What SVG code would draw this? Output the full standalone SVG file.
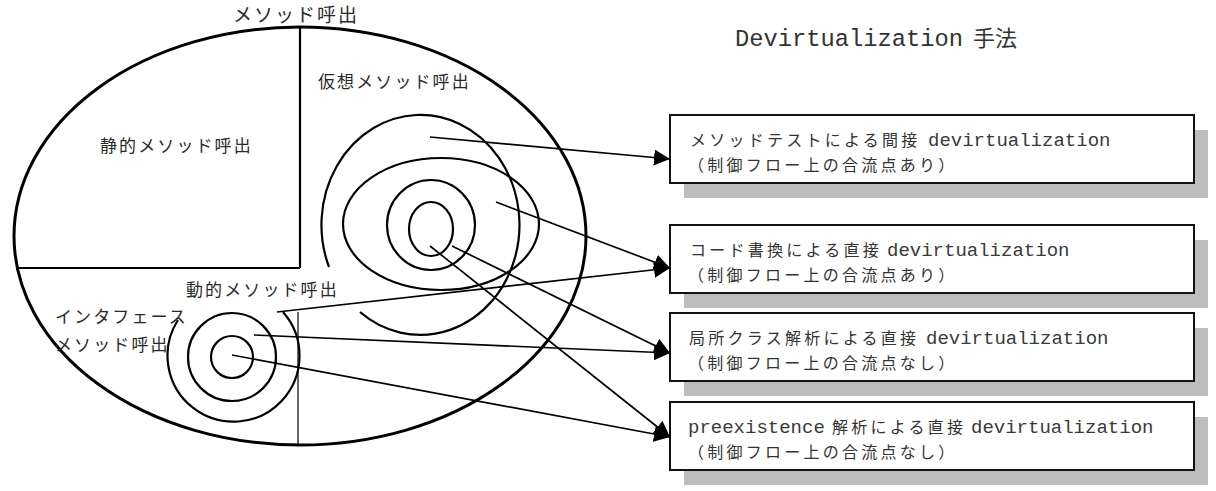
<svg xmlns="http://www.w3.org/2000/svg" width="1216" height="491" viewBox="0 0 1216 491">
<style>
.jp{font-family:"Noto Sans CJK JP","Noto Sans CJK SC",sans-serif;font-size:17px;letter-spacing:2.1px;fill:#2a2a2a}
.bt{font-family:"Noto Sans CJK JP","Noto Sans CJK SC",sans-serif;font-size:16px;fill:#333}
.bj{letter-spacing:3.25px}
.mono{font-family:"Liberation Mono",monospace;font-size:19px;letter-spacing:0;fill:#3a3a3a}
.box{fill:#fff;stroke:#111;stroke-width:2}
.sh{fill:#bdbdbd}
.thick{fill:none;stroke:#000;stroke-width:3}
.mid{fill:none;stroke:#000;stroke-width:2.2}
.thin{fill:none;stroke:#000;stroke-width:1.2}
.con{fill:none;stroke:#000;stroke-width:1.7;marker-end:url(#ah)}
</style>
<defs>
<marker id="ah" markerUnits="userSpaceOnUse" markerWidth="17" markerHeight="16" refX="16" refY="8" orient="auto">
<path d="M0,0 L16,8 L0,16 z" fill="#000"/>
</marker>
</defs>
<rect width="1216" height="491" fill="#fff"/>

<g id="method-call">
<ellipse class="thick" cx="300" cy="236" rx="286" ry="209"/>
<line class="mid" x1="300" y1="27" x2="300" y2="268"/>
<line class="mid" x1="17" y1="268" x2="300" y2="268"/>
<line class="thin" x1="298" y1="312" x2="298" y2="445"/>
<text class="jp" x="233" y="22" style="font-size:19px;letter-spacing:2px">メソッド呼出</text>
</g>

<g id="static-call">
<text class="jp" x="100" y="152">静的メソッド呼出</text>
</g>

<g id="virtual-call">
<text class="jp" x="318" y="88">仮想メソッド呼出</text>
<ellipse class="mid" cx="431" cy="229" rx="22" ry="27"/>
<ellipse class="mid" cx="431" cy="225" rx="44" ry="45"/>
<ellipse class="mid" cx="441" cy="224" rx="98" ry="66"/>
<path class="mid" d="M329,267 A99,110 0 1 1 360,312"/>
</g>

<g id="dynamic-call">
<text class="jp" x="186" y="296">動的メソッド呼出</text>
</g>

<g id="interface-call">
<text class="jp"><tspan x="55" y="323">インタフェース</tspan><tspan x="55" y="351">メソッド呼出</tspan></text>
<circle class="mid" cx="232" cy="357" r="21"/>
<circle class="mid" cx="232" cy="357" r="44"/>
<path class="mid" d="M178,320 A66,66 0 1 0 283,312"/>
</g>

<g id="title">
<text y="46"><tspan x="735" style="font-family:'Liberation Mono',monospace;font-size:23.75px;fill:#333">Devirtualization</tspan><tspan x="973" style="font-family:'Noto Sans CJK JP','Noto Sans CJK SC',sans-serif;font-size:22px;fill:#333">手法</tspan></text>
</g>

<g id="box1">
<rect class="sh" x="684" y="130" width="524" height="68"/>
<rect class="box" x="670" y="115" width="524" height="68"/>
<text class="bt"><tspan class="bj" x="690" y="146">メソッドテストによる間接</tspan><tspan class="mono" x="928" y="146">devirtualization</tspan><tspan class="bj" x="688" y="171">（制御フロー上の合流点あり）</tspan></text>
</g>

<g id="box2">
<rect class="sh" x="684" y="240" width="524" height="68"/>
<rect class="box" x="670" y="225" width="524" height="68"/>
<text class="bt"><tspan class="bj" x="690" y="256">コード書換による直接</tspan><tspan class="mono" x="887" y="256">devirtualization</tspan><tspan class="bj" x="688" y="281">（制御フロー上の合流点あり）</tspan></text>
</g>

<g id="box3">
<rect class="sh" x="684" y="328" width="524" height="68"/>
<rect class="box" x="670" y="313" width="524" height="68"/>
<text class="bt"><tspan class="bj" x="689" y="344">局所クラス解析による直接</tspan><tspan class="mono" x="926" y="344">devirtualization</tspan><tspan class="bj" x="688" y="369">（制御フロー上の合流点なし）</tspan></text>
</g>

<g id="box4">
<rect class="sh" x="684" y="417" width="524" height="68"/>
<rect class="box" x="670" y="402" width="524" height="68"/>
<text class="bt"><tspan class="mono" x="688" y="433">preexistence</tspan><tspan class="bj" x="832" y="433">解析による直接</tspan><tspan class="mono" x="971" y="433">devirtualization</tspan><tspan class="bj" x="688" y="458">（制御フロー上の合流点なし）</tspan></text>
</g>

<g id="connectors">
<line class="con" x1="430" y1="137" x2="670" y2="159"/>
<line class="con" x1="496" y1="202" x2="670" y2="268"/>
<line class="con" x1="277" y1="312" x2="670" y2="268"/>
<line class="con" x1="452" y1="246" x2="670" y2="353"/>
<line class="con" x1="254" y1="335" x2="670" y2="353"/>
<line class="con" x1="430" y1="246" x2="670" y2="437"/>
<line class="con" x1="232" y1="355" x2="670" y2="437"/>
</g>
</svg>
